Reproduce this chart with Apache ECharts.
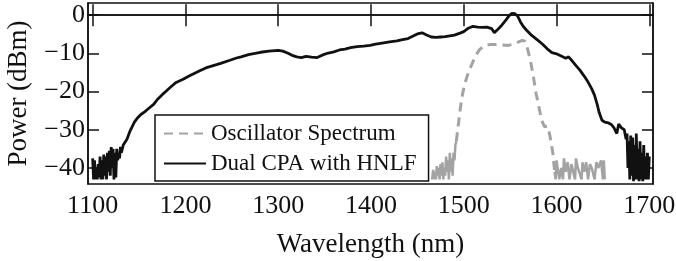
<!DOCTYPE html>
<html>
<head>
<meta charset="utf-8">
<script src="https://cdn.jsdelivr.net/npm/echarts@6/dist/echarts.min.js"></script>
<style>
  html, body { margin: 0; padding: 0; background: #ffffff; }
  #chart { width: 676px; height: 261px; }
</style>
</head>
<body>
<div id="chart"></div>
<script>
// tick labels
var xTicks = [1100, 1200, 1300, 1400, 1500, 1600, 1700]
var yTicks = [-40, -30, -20, -10, 0]

// Dual CPA with HNLF (black)
var dualWl = [
  1100, 1101, 1102, 1103, 1104, 1105, 1106, 1107, 1108, 1109, 1110, 1111, 1112, 1113, 1114, 1115, 1116,
  1117, 1118, 1119, 1120, 1121, 1122, 1123, 1124, 1125, 1126, 1127, 1128, 1129, 1130, 1131, 1132, 1133,
  1135, 1137, 1140, 1142, 1145, 1148, 1152, 1156, 1160, 1166, 1170, 1175, 1180, 1185, 1190, 1198, 1205,
  1210, 1216, 1222, 1230, 1238, 1248, 1255, 1260, 1268, 1275, 1281, 1290, 1300, 1305, 1310, 1315, 1320,
  1325, 1330, 1336, 1342, 1348, 1354, 1360, 1366, 1372, 1378, 1385, 1392, 1399, 1405, 1412, 1420, 1428,
  1434, 1440, 1446, 1450, 1455, 1460, 1465, 1470, 1475, 1480, 1485, 1490, 1496, 1500, 1505, 1510, 1515,
  1520, 1525, 1530, 1533, 1536, 1540, 1546, 1549, 1552, 1555, 1558, 1561, 1564, 1568, 1572, 1576, 1580,
  1585, 1590, 1595, 1600, 1605, 1610, 1613, 1617, 1621, 1625, 1630, 1634, 1638, 1641, 1644, 1646, 1649,
  1652, 1656, 1659, 1662, 1665, 1667, 1670, 1673, 1675, 1676, 1677, 1678, 1679, 1680, 1681, 1682, 1683,
  1684, 1685, 1686, 1687, 1688, 1689, 1690, 1691, 1692, 1693, 1694, 1695, 1696, 1697, 1698, 1699, 1700
]
var dualPow = [
  -37.5, -43, -38, -43, -40, -43, -39, -42.5, -37, -43, -38, -43, -36.5, -42, -37, -43, -36,
  -41, -35.5, -42, -34.5, -40, -35, -43, -36, -42.5, -35, -38, -36, -37.5, -34.5, -36, -35.5, -34,
  -33.5, -32.5, -30.5, -29.5, -28, -27, -26, -25.3, -24.5, -23.3, -22, -20.8, -19.7, -18.6, -17.6, -16.7, -15.8,
  -15.2, -14.5, -13.8, -13.2, -12.6, -11.8, -11.2, -10.9, -10.3, -10, -9.7, -9.4, -9.2, -9.4, -9.9, -10.5, -10.9,
  -11.1, -10.8, -11, -11.1, -10.4, -9.9, -9.6, -9.1, -8.9, -8.5, -8.2, -8.1, -7.9, -7.6, -7.3, -7.0, -6.7,
  -6.4, -6.1, -5.4, -4.9, -4.6, -5.2, -5.7, -5.8, -5.7, -5.6, -5.4, -5.2, -4.7, -4.3, -3.4, -2.9, -3.1,
  -3.2, -3.1, -3.5, -4.6, -3.9, -2.9, -1.1, -0.1, 0.5, 0.4, -0.2, -1.7, -2.9, -4, -5, -5.8, -6.6,
  -7.6, -8.8, -9.8, -10.1, -10.7, -11.3, -10.9, -12, -13.2, -14.3, -16, -17.5, -19.3, -21, -23.5, -25.5, -27.5,
  -28, -28.2, -28.6, -29.5, -31, -28.5, -29.5, -30, -32.5, -31, -40, -33, -43, -31.5, -42, -32, -43.5,
  -34, -43, -31, -43, -35, -43.5, -33, -43, -36, -43.5, -34, -43, -37, -43, -36, -43, -37
]

// Oscillator Spectrum (grey dashed)
var oscWl = [
  1466, 1467, 1468, 1469, 1470, 1471, 1472, 1473, 1474, 1475, 1476, 1477, 1478, 1479, 1480, 1481, 1482,
  1483, 1484, 1485, 1486, 1487, 1488, 1489, 1490, 1491, 1492, 1494, 1496, 1498, 1501, 1505, 1509, 1513,
  1517, 1522, 1528, 1535, 1542, 1548, 1553, 1558, 1563, 1566, 1569, 1572, 1575, 1578, 1581, 1584, 1587,
  1590, 1592, 1594, 1596, 1598, 1599, 1600, 1602, 1603, 1605, 1607, 1608, 1610, 1612, 1614, 1616, 1618,
  1620, 1621, 1623, 1625, 1627, 1628, 1630, 1632, 1634, 1636, 1638, 1640, 1641, 1643, 1645, 1647, 1648,
  1650, 1651, 1652
]
var oscPow = [
  -43, -40.5, -43, -41, -43, -39.5, -42, -40, -43, -39, -42, -38.5, -43, -40, -42, -37, -41,
  -38, -43, -36, -41, -37.5, -42, -36, -38, -34, -33, -29, -25, -21.5, -18, -15, -12.7, -10.5,
  -9, -8, -7.7, -7.7, -7.8, -7.9, -7.6, -7.1, -6.6, -6.8, -9, -12, -16, -20.5, -24, -27.5, -29.2,
  -29, -30.5, -33, -36, -41, -43, -38, -38, -43, -40, -43, -37.5, -41, -38.5, -43, -39, -39,
  -43, -37.5, -40, -40, -43, -38.5, -41, -38.5, -43, -39, -40, -40, -43, -38.5, -40, -40, -38,
  -43, -38, -43
]
// the noise floor either side of the oscillator band is drawn solid
var oscBandFrom = 1492
var oscBandTo = 1598

function pairs(xs, ys, keep) {
  return xs.map(function(x, i) { return keep(x) ? [x, ys[i]] : [x, null] })
}

var font = 'Liberation Serif'
var grey = '#a3a3a3'
var ink = '#111'
var chart = echarts.init(document.getElementById('chart'), null, { renderer: 'canvas' })

var option = {
  backgroundColor: '#ffffff',
  animation: false,
  grid: {
    left: 88,
    right: 23,
    top: 3,
    bottom: 77,
    outerBoundsMode: 'none',
    containLabel: false,
    show: true,
    borderColor: ink,
    borderWidth: 1.5,
    backgroundColor: 'transparent'
  },
  legend: {
    orient: 'vertical',
    left: 155,
    top: 115,
    padding: [7, 12, 6, 8],
    itemGap: 7,
    itemWidth: 42,
    itemHeight: 18,
    backgroundColor: '#ffffff',
    borderColor: ink,
    borderWidth: 1.5,
    itemStyle: { opacity: 0 },
    textStyle: { fontFamily: font, fontSize: 23, color: ink },
    data: ['Oscillator Spectrum', 'Dual CPA with HNLF']
  },
  xAxis: [
    {
      type: 'value',
      min: 1095,
      max: 1704,
      name: 'Wavelength (nm)',
      nameLocation: 'middle',
      nameGap: 47,
      nameTextStyle: { fontFamily: font, fontSize: 27, color: ink },
      axisLine: { show: true, lineStyle: { color: ink, width: 1.5 } },
      axisTick: { show: true, inside: true, length: 11, customValues: xTicks, lineStyle: { color: ink, width: 1.5 } },
      axisLabel: {
        customValues: xTicks,
        margin: 9,
        fontFamily: font,
        fontSize: 26,
        color: ink,
        formatter: function(v) { return String(v) }
      },
      splitLine: { show: false }
    },
    {
      type: 'value',
      position: 'top',
      min: 1095,
      max: 1704,
      axisLine: { show: true, lineStyle: { color: ink, width: 1.5 } },
      axisTick: { show: true, inside: true, length: 11, customValues: xTicks, lineStyle: { color: ink, width: 1.5 } },
      axisLabel: { show: false },
      splitLine: { show: false }
    }
  ],
  yAxis: [
    {
      type: 'value',
      min: -44.2,
      max: 3.2,
      name: 'Power (dBm)',
      nameLocation: 'middle',
      nameGap: 56,
      nameTextStyle: { fontFamily: font, fontSize: 27, color: ink },
      axisLine: { show: true, lineStyle: { color: ink, width: 1.5 } },
      axisTick: { show: true, inside: true, length: 11, customValues: yTicks, lineStyle: { color: ink, width: 1.5 } },
      axisLabel: {
        customValues: yTicks,
        margin: 3,
        fontFamily: font,
        fontSize: 26,
        color: ink,
        formatter: function(v) { return v < 0 ? '\u2212' + Math.abs(v) : String(v) }
      },
      splitLine: { show: false }
    },
    {
      type: 'value',
      position: 'right',
      min: -44.2,
      max: 3.2,
      axisLine: { show: true, lineStyle: { color: ink, width: 1.5 } },
      axisTick: { show: true, inside: true, length: 11, customValues: yTicks, lineStyle: { color: ink, width: 1.5 } },
      axisLabel: { show: false },
      splitLine: { show: false }
    }
  ],
  series: [
    {
      name: 'Oscillator Spectrum',
      type: 'line',
      data: pairs(oscWl, oscPow, function(x) { return x >= oscBandFrom && x <= oscBandTo }),
      symbol: 'none',
      z: 2,
      lineStyle: { color: grey, width: 3, type: [9, 6] },
      itemStyle: { color: grey }
    },
    {
      name: 'Oscillator Spectrum',
      type: 'line',
      data: pairs(oscWl, oscPow, function(x) { return x <= oscBandFrom || x >= oscBandTo }),
      symbol: 'none',
      z: 2,
      lineStyle: { color: grey, width: 2.5 },
      itemStyle: { color: grey }
    },
    {
      name: 'Dual CPA with HNLF',
      type: 'line',
      data: pairs(dualWl, dualPow, function() { return true }),
      symbol: 'none',
      z: 3,
      lineStyle: { color: ink, width: 2.8 },
      itemStyle: { color: ink }
    }
  ]
}
chart.setOption(option)
</script>
</body>
</html>
